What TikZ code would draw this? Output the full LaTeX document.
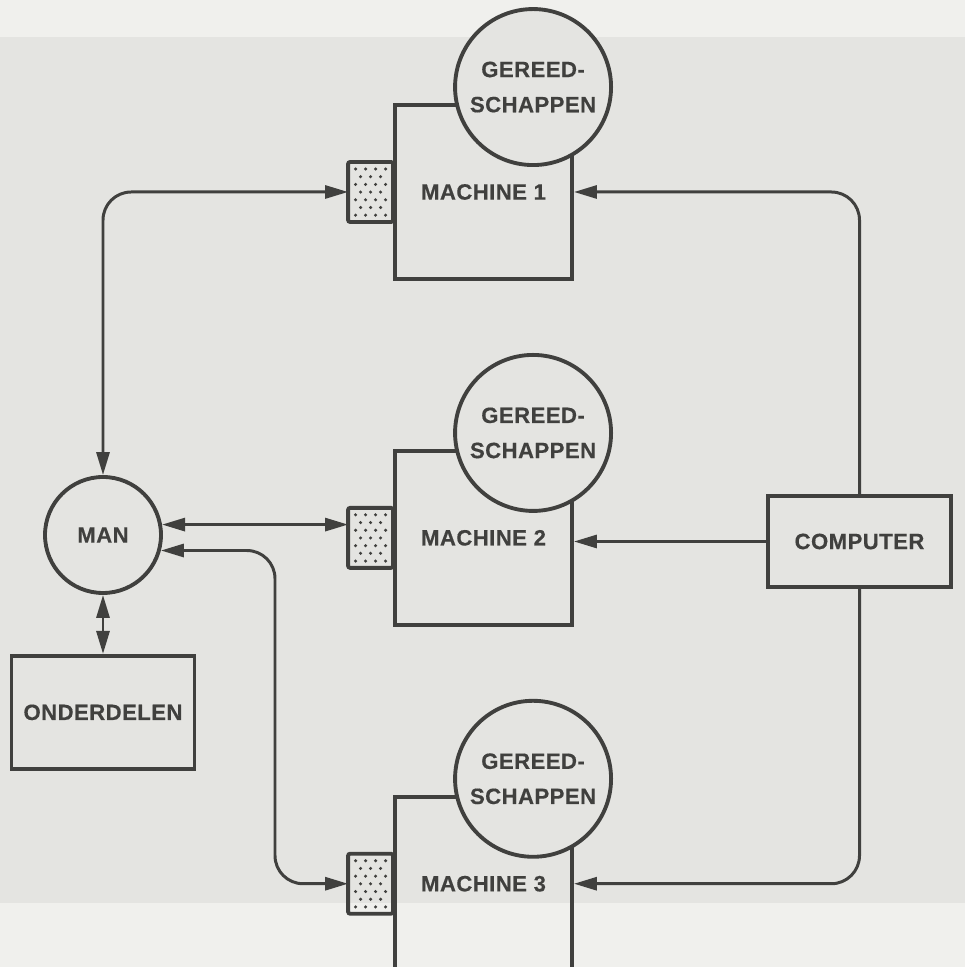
\documentclass[tikz,border=0pt]{standalone}
\usepackage{fontspec}
\usepackage{xcolor}
\usepackage{tikz}
\usetikzlibrary{arrows.meta,positioning}
\newfontfamily\lettering[FakeBold=0.4,LetterSpace=2]{Liberation Sans}

\definecolor{ink}{RGB}{64,64,62}
\definecolor{paper}{RGB}{240,240,237}
\definecolor{panel}{RGB}{228,228,225}

\begin{document}
\begin{tikzpicture}[
  node distance=1.68cm and 0.6cm,
  every node/.style={text=ink, font=\lettering\bfseries\fontsize{6.3}{10}\selectfont},
  machine/.style={draw=ink, line width=1.1pt, minimum width=1.77cm, minimum height=1.74cm},
  tool/.style={draw=ink, fill=panel, line width=1.1pt, circle, minimum size=1.56cm, inner sep=0pt, align=center},
  port/.style={draw=ink, line width=1.1pt, rounded corners=0.6pt, minimum width=0.45cm, minimum height=0.6cm, outer sep=0pt,
    path picture={
      \foreach \r in {0,2,4,6} \foreach \c in {0,...,3}
        \fill[ink] ([shift={(0.075+0.1*\c,-0.07-0.077*\r)}]path picture bounding box.north west) circle (0.017);
      \foreach \r in {1,3,5} \foreach \c in {0,...,2}
        \fill[ink] ([shift={(0.125+0.1*\c,-0.07-0.077*\r)}]path picture bounding box.north west) circle (0.017);
    }},
  block/.style={draw=ink, line width=1.1pt, minimum width=1.83cm},
  arr/.style={draw=ink, line width=0.85pt, -{Triangle[length=2.3mm, width=1.3mm]}},
  dbl/.style={draw=ink, line width=0.85pt, {Triangle[length=2.3mm, width=1.3mm]}-{Triangle[length=2.3mm, width=1.3mm]}}
]
  % page
  \fill[paper] (0,0) rectangle (9.65,9.67);
  \fill[panel] (0,0.64) rectangle (9.65,9.30);
  \useasboundingbox (0,0) rectangle (9.65,9.67);

  % the three machines with their tools and operator panels
  \node[machine] (m1) at (4.835,7.75) {MACHINE 1};
  \node[machine, below=of m1] (m2) {MACHINE 2};
  \node[machine, below=of m2] (m3) {MACHINE 3};

  \node[tool] (t1) at ([shift={(1.40,0.16)}]m1.north west) {GEREED-\\SCHAPPEN};
  \node[tool] (t2) at ([shift={(1.40,0.16)}]m2.north west) {GEREED-\\SCHAPPEN};
  \node[tool] (t3) at ([shift={(1.40,0.16)}]m3.north west) {GEREED-\\SCHAPPEN};

  \node[port, left=0pt of m1.west] (p1) {};
  \node[port, left=0pt of m2.west] (p2) {};
  \node[port, left=0pt of m3.west] (p3) {};

  % man, parts and computer
  \node[draw=ink, line width=1.1pt, circle, minimum size=1.16cm] (man) at (1.03,4.32) {MAN};
  \node[block, minimum height=1.13cm, below=0.59cm of man] (parts) {ONDERDELEN};
  \node[block, minimum height=0.91cm] (comp) at (8.595,4.255) {COMPUTER};
  \coordinate (turn3) at (2.75,0);

  \draw[dbl, rounded corners=8pt] (man.north) |- (p1.west);
  \draw[dbl] (man.10) -- (man.10 -| p2.west);
  \draw[dbl, rounded corners=8pt] (man.-15) -| (turn3 |- p3.west) -- (p3.west);
  \draw[dbl] (man.south) -- (parts.north);

  \draw[arr, rounded corners=8pt] (comp.north) |- (m1.east);
  \draw[arr] (comp.west) -- (comp.west -| m2.east);
  \draw[arr, rounded corners=8pt] (comp.south) |- (m3.east);
\end{tikzpicture}
\end{document}
